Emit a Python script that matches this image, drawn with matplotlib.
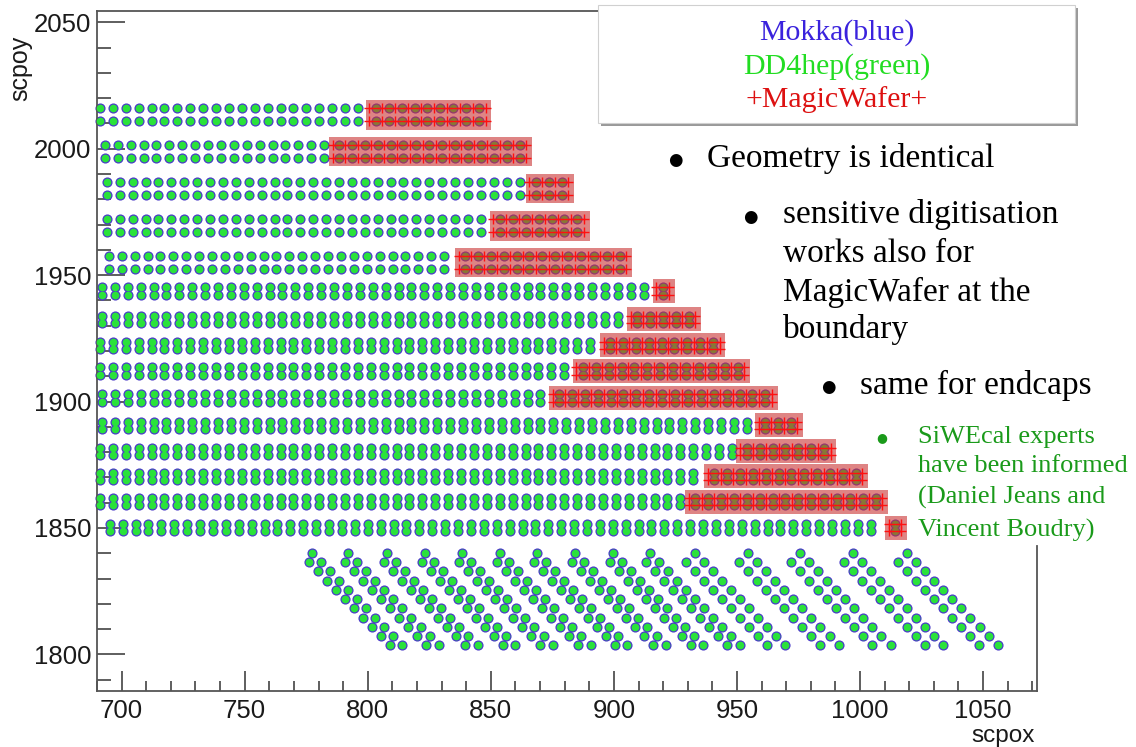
import matplotlib.pyplot as plt
from matplotlib.patches import Rectangle

plt.rcParams["font.family"] = ["Liberation Sans", "DejaVu Sans"]

W, H = 1136, 747

# ----------------------------------------------------------------------
# Barrel cell rows (each band = two rows of cells)
# ----------------------------------------------------------------------
band_y = [2013.5, 1998.9, 1984.3, 1969.6, 1955.0,
          1943.7, 1932.6, 1922.3, 1912.1, 1901.4,
          1890.7, 1880.4, 1870.5, 1860.3, 1850.0]
band_half = [2.6, 2.6, 2.6, 2.6, 2.6,
             1.6, 1.4, 1.4, 1.4, 1.4,
             1.4, 1.4, 1.4, 1.4, 1.4]
cell_x0 = [691.2, 693.2, 694.0, 694.0, 694.8,
           692.0, 692.0, 691.2, 691.2, 692.0,
           692.0, 691.2, 691.2, 691.2, 695.2]
cell_n = [21, 18, 33, 30, 27, 43, 41, 39, 37, 35, 51, 50, 47, 46, 60]
magic_x0 = [803.3, 788.3, 868.3, 853.7, 839.5,
            919.9, 909.4, 898.4, 887.4, 877.7,
            961.4, 954.0, 940.7, 933.0, 1014.2]
magic_n = [9, 15, 3, 7, 13, 1, 5, 9, 13, 17, 3, 7, 12, 15, 1]
cell_pitch = 5.24

# ----------------------------------------------------------------------
# Diagonal stripes (lower part): two parallel lines of cells per stripe
# ----------------------------------------------------------------------
stripe_top_x = [777.3, 792.0, 807.8, 823.2, 838.3, 853.7, 868.7, 884.2,
                899.6, 914.6, 932.9, 954.5, 975.6, 997.1, 1019.1]
stripe_gap = [5.0, 5.0, 5.0, 5.0, 5.0, 5.0, 5.0, 5.0, 5.0, 5.4,
              7.4, 7.4, 7.4, 7.4, 7.4]
stripe_top_y = 1840.1
stripe_levels = 11
stripe_dx = 3.68
stripe_dy = 3.66

# ----------------------------------------------------------------------
# Collect cell positions
# ----------------------------------------------------------------------
xs, ys = [], []
plus_rows = []
boxes = []
for yc, hh, x0, n, mx0, mn in zip(band_y, band_half, cell_x0, cell_n,
                                  magic_x0, magic_n):
    for yr in (yc + hh, yc - hh):
        for i in range(n):
            xs.append(x0 + i * cell_pitch)
            ys.append(yr)
        for i in range(mn):
            xs.append(mx0 + i * cell_pitch)
            ys.append(yr)
        px = [mx0 + (k - 0.5) * cell_pitch for k in range(mn + 1)]
        plus_rows.append((px, [yr] * len(px)))
    x_last = mx0 + (mn - 1) * cell_pitch
    boxes.append((mx0 - 0.8 * cell_pitch, yc - hh - 3.3,
                  x_last - mx0 + 1.75 * cell_pitch, 2 * hh + 6.6))

for tx, gap in zip(stripe_top_x, stripe_gap):
    for lev in range(stripe_levels):
        xb = tx + lev * stripe_dx
        yl = stripe_top_y - lev * stripe_dy
        xs.append(xb)
        ys.append(yl)
        if lev > 0:
            xs.append(xb - gap)
            ys.append(yl)

# ----------------------------------------------------------------------
# Figure
# ----------------------------------------------------------------------
fig = plt.figure(figsize=(W / 100, H / 100), dpi=100)
ax = fig.add_axes([97 / W, 1 - 691 / H, (1037 - 97) / W, (691 - 11) / H])

ax.scatter(xs, ys, s=7.3 ** 2, color="#4a3cc8", linewidths=0, zorder=2,
           clip_on=False)
ax.scatter(xs, ys, s=5.5 ** 2, color="#2ae23a", linewidths=0, zorder=3,
           clip_on=False)

for bx, by, bw, bh in boxes:
    ax.add_patch(Rectangle((bx, by), bw, bh, facecolor="#c83232", alpha=0.6,
                           edgecolor="none", zorder=4))
for px, py in plus_rows:
    ax.plot(px, py, color="#ff1010", lw=0.9, marker="+", ms=7, mew=1.0,
            zorder=5)

ax.set_xlim(690.0, 1071.9)
ax.set_ylim(1785.5, 2054.5)
ax.set_xticks([700, 750, 800, 850, 900, 950, 1000, 1050])
ax.set_xticks(range(690, 1071, 10), minor=True)
ax.set_yticks([1800, 1850, 1900, 1950, 2000, 2050])
ax.set_yticks(range(1790, 2055, 10), minor=True)
ax.tick_params(axis="both", which="both", direction="in", colors="#333333",
               labelcolor="#1a1a1a", labelsize=18.5, width=1.1,
               top=False, right=False)
ax.tick_params(axis="y", which="major", length=20, pad=4)
ax.tick_params(axis="y", which="minor", length=10)
ax.tick_params(axis="x", which="major", length=14.5, pad=6)
ax.tick_params(axis="x", which="minor", length=7.5)
for side in ax.spines.values():
    side.set_color("#555555")
    side.set_linewidth(1.3)
ax.spines["right"].set_bounds(1785.5, 1843.0)

fig.text(1035 / W, 1 - 747 / H, "scpox", ha="right", va="bottom",
         fontsize=17.5, color="#1a1a1a")
fig.text(20 / W, 1 - 36 / H, "scpoy", ha="center", va="top", rotation=90,
         fontsize=18, color="#1a1a1a")

# ----------------------------------------------------------------------
# Legend box and slide notes
# ----------------------------------------------------------------------
fig.patches.append(Rectangle((601 / W, 1 - 126 / H), 477 / W, 118 / H,
                             transform=fig.transFigure, facecolor="#9a9a9a",
                             edgecolor="none", zorder=1))
fig.patches.append(Rectangle((598 / W, 1 - 123 / H), 477 / W, 118 / H,
                             transform=fig.transFigure, facecolor="white",
                             edgecolor="#d0d0d0", lw=0.8, zorder=1.1))

serif = ["Liberation Serif", "DejaVu Serif"]
legend_lines = ["Mokka(blue)", "DD4hep(green)", "+MagicWafer+"]
legend_colors = ["#3a22dd", "#22dd22", "#dd1111"]
legend_py = [33, 67, 100]
for txt, col, py in zip(legend_lines, legend_colors, legend_py):
    fig.text(837 / W, 1 - py / H, txt, ha="center", va="center",
             fontsize=21.5, color=col, family=serif, zorder=3)

notes = [
    (675, 707, [(158, "Geometry is identical")]),
    (750, 783, [(215, "sensitive digitisation"), (254, "works also for"),
                (292, "MagicWafer at the"), (330, "boundary")]),
    (828, 860, [(385, "same for endcaps")]),
]
for bx, tx, lines in notes:
    fig.text(bx / W, 1 - (lines[0][0] + 2) / H, "\u25cf", ha="center",
             va="center", fontsize=12, color="black",
             family=["DejaVu Sans"])
    for py, txt in lines:
        fig.text(tx / W, 1 - py / H, txt, ha="left", va="center",
                 fontsize=24, color="black", family=serif)

green_note = [(437, "SiWEcal experts"), (466, "have been informed"),
              (497, "(Daniel Jeans and"), (530, "Vincent Boudry)")]
fig.text(882 / W, 1 - 438 / H, "\u25cf", ha="center", va="center",
         fontsize=9, color="#1a9a1a", family=["DejaVu Sans"])
for py, txt in green_note:
    fig.text(918 / W, 1 - py / H, txt, ha="left", va="center",
             fontsize=19, color="#1a9a1a", family=serif)

fig.savefig("out.png", dpi=100)
